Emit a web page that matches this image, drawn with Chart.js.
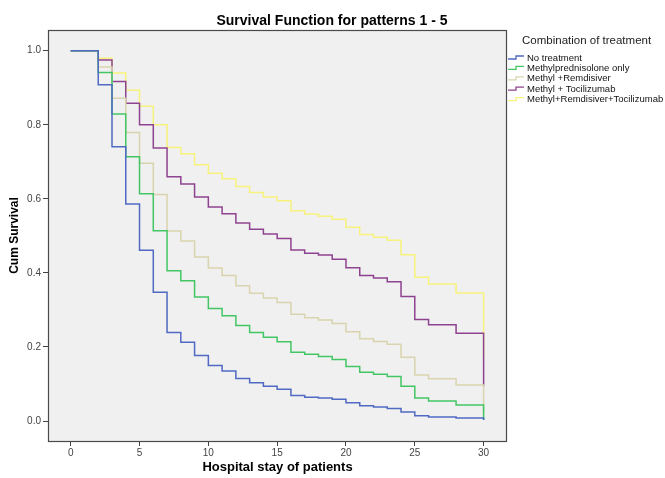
<!DOCTYPE html>
<html>
<head>
<meta charset="utf-8">
<script src="https://cdn.jsdelivr.net/npm/chart.js@4.4.0/dist/chart.umd.min.js"></script>
<style>
  html, body { margin: 0; padding: 0; background: #fff; }
  #wrap { width: 665px; height: 478px; }
</style>
</head>
<body>
<div id="wrap"><canvas id="survChart" width="665" height="478"></canvas></div>
<script>
// days at which the curves step (no events on day 1, 27, 29)
const days = [0, 2, 3, 4, 5, 6, 7, 8, 9, 10, 11, 12, 13, 14, 15, 16, 17, 18, 19, 20, 21, 22, 23, 24, 25, 26, 28, 30];

const noTreatment = [1, 0.908, 0.741, 0.586, 0.461, 0.348, 0.239, 0.213, 0.177, 0.150, 0.135, 0.115, 0.103, 0.094, 0.086, 0.069, 0.064, 0.062, 0.059, 0.049, 0.041, 0.038, 0.034, 0.024, 0.014, 0.011, 0.008, 0.003];
const methylOnly  = [1, 0.941, 0.829, 0.714, 0.614, 0.514, 0.406, 0.379, 0.335, 0.304, 0.284, 0.258, 0.239, 0.226, 0.214, 0.186, 0.180, 0.174, 0.166, 0.147, 0.132, 0.126, 0.120, 0.094, 0.062, 0.054, 0.043, 0.003];
const methylRemd  = [1, 0.956, 0.872, 0.779, 0.696, 0.612, 0.513, 0.486, 0.443, 0.413, 0.393, 0.365, 0.345, 0.332, 0.320, 0.288, 0.279, 0.273, 0.263, 0.241, 0.222, 0.215, 0.207, 0.172, 0.124, 0.114, 0.097, 0.020];
const methylToci  = [1, 0.975, 0.917, 0.858, 0.800, 0.737, 0.660, 0.640, 0.605, 0.578, 0.560, 0.535, 0.518, 0.505, 0.493, 0.462, 0.453, 0.448, 0.437, 0.414, 0.393, 0.386, 0.376, 0.336, 0.274, 0.260, 0.237, 0.093];
const methylAll   = [1, 0.980, 0.940, 0.893, 0.850, 0.800, 0.739, 0.722, 0.692, 0.669, 0.654, 0.633, 0.617, 0.605, 0.595, 0.568, 0.559, 0.553, 0.545, 0.523, 0.504, 0.496, 0.488, 0.449, 0.388, 0.370, 0.346, 0.169];

const seriesNames = ['No treatment', 'Methylprednisolone only', 'Methyl +Remdisiver', 'Methyl + Tocilizumab', 'Methyl+Remdisiver+Tocilizumab'];
const seriesValues = [noTreatment, methylOnly, methylRemd, methylToci, methylAll];
const seriesColors = ['#5069c2', '#42c664', '#d9d4ad', '#8e4390', '#f7f27c'];

const xTicks = [0, 5, 10, 15, 20, 25, 30];
const yTicks = [0, 0.2, 0.4, 0.6, 0.8, 1.0];

const FONT = "'Liberation Sans', Arial, sans-serif";

// plot background, frame, title and the SPSS-like legend
const decor = {
  id: 'decor',
  beforeDraw(chart) {
    const { ctx, chartArea: a } = chart;
    ctx.save();
    ctx.fillStyle = '#f0f0f0';
    ctx.fillRect(a.left, a.top, a.right - a.left, a.bottom - a.top);
    ctx.restore();
  },
  afterDraw(chart) {
    const { ctx, chartArea: a } = chart;
    ctx.save();
    ctx.strokeStyle = '#4a4a4a';
    ctx.lineWidth = 1.2;
    ctx.strokeRect(a.left + 0.5, a.top + 0.5, a.right - a.left - 1, a.bottom - a.top);

    // title
    ctx.fillStyle = '#000';
    ctx.font = 'bold 14px ' + FONT;
    ctx.textAlign = 'center';
    ctx.textBaseline = 'alphabetic';
    ctx.fillText('Survival Function for patterns 1 - 5', 332, 25);

    // legend
    ctx.textAlign = 'left';
    ctx.textBaseline = 'middle';
    ctx.fillStyle = '#222';
    ctx.font = '11.5px ' + FONT;
    ctx.fillText('Combination of treatment', 522, 41);
    ctx.font = '9.5px ' + FONT;
    seriesNames.forEach((name, i) => {
      const y = 57.5 + i * 10.4;
      ctx.strokeStyle = seriesColors[i];
      ctx.lineWidth = 1.3;
      ctx.beginPath();
      ctx.moveTo(508, y + 1.5);
      ctx.lineTo(516, y + 1.5);
      ctx.lineTo(516, y - 1.5);
      ctx.lineTo(524, y - 1.5);
      ctx.stroke();
      ctx.fillStyle = '#111';
      ctx.fillText(name, 527, y + 0.5);
    });
    ctx.restore();
  }
};

const datasets = seriesNames.map((name, i) => ({
  label: name,
  data: days.map((d, j) => ({ x: d, y: seriesValues[i][j] })),
  borderColor: seriesColors[i],
  borderWidth: 1.5,
  pointRadius: 0,
  stepped: 'before',
  fill: false,
}));

new Chart(document.getElementById('survChart'), {
  type: 'line',
  data: { datasets },
  options: {
    responsive: false,
    animation: false,
    devicePixelRatio: 1,
    layout: { padding: { top: 30, right: 158, left: 0, bottom: 0 } },
    plugins: { legend: { display: false }, title: { display: false }, tooltip: { enabled: false } },
    scales: {
      x: {
        type: 'linear',
        min: -1.65,
        max: 31.7,
        afterBuildTicks: (s) => { s.ticks = xTicks.map((v) => ({ value: v })); },
        afterFit: (s) => { s.height = 37; },
        border: { display: false },
        grid: { drawOnChartArea: false, drawTicks: true, tickLength: 5, color: '#444', tickWidth: 1 },
        ticks: { color: '#444', font: { family: FONT, size: 10 }, padding: 1, maxRotation: 0, autoSkip: false },
        title: { display: true, text: 'Hospital stay of patients', color: '#000', font: { family: FONT, size: 13, weight: 'bold' }, padding: { top: 0, bottom: 3 } },
      },
      y: {
        type: 'linear',
        min: -0.054,
        max: 1.056,
        afterBuildTicks: (s) => { s.ticks = yTicks.map((v) => ({ value: v })); },
        afterFit: (s) => { s.width = 48; },
        border: { display: false },
        grid: { drawOnChartArea: false, drawTicks: true, tickLength: 5, color: '#444', tickWidth: 1 },
        ticks: { color: '#444', font: { family: FONT, size: 10 }, padding: 2, callback: (v) => Number(v).toFixed(1) },
        title: { display: true, text: 'Cum Survival', color: '#000', font: { family: FONT, size: 12, weight: 'bold' }, padding: { top: 7, bottom: 0 } },
      },
    },
  },
  plugins: [decor],
});
</script>
</body>
</html>
